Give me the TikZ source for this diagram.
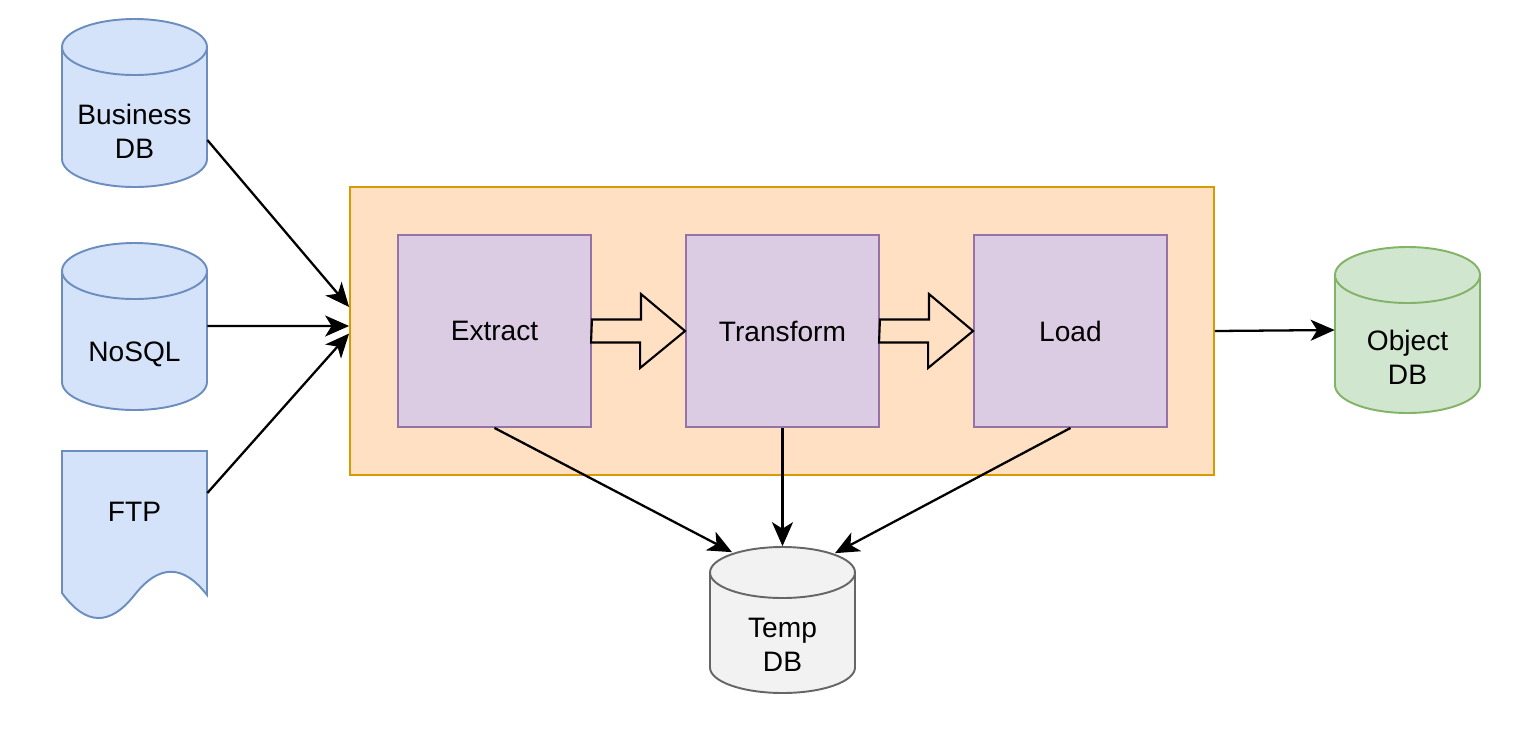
\documentclass[tikz,border=0pt]{standalone}
\usepackage{fontspec}
\setmainfont{Liberation Sans}
\usetikzlibrary{arrows.meta, calc}

\definecolor{srcfill}{HTML}{D4E3FA}
\definecolor{srcline}{HTML}{6C8EBF}
\definecolor{etlfill}{HTML}{FFE0C3}
\definecolor{etlline}{HTML}{D79B00}
\definecolor{stepfill}{HTML}{DBCBE3}
\definecolor{stepline}{HTML}{9673A6}
\definecolor{objfill}{HTML}{D0E6CE}
\definecolor{objline}{HTML}{82B366}
\definecolor{tmpfill}{HTML}{F2F2F2}
\definecolor{tmpline}{HTML}{666666}

% cylinder outline: centre x, top, bottom, cap radius, fill, line
\newcommand{\dbcyl}[6]{%
    \draw[fill=#5, draw=#6, line width=1.1pt]
        (#1-72.5,#2+#4) -- (#1-72.5,#3-#4)
        arc[start angle=180, end angle=0, x radius=72.5, y radius=#4]
        -- (#1+72.5,#2+#4)
        arc[start angle=0, end angle=-180, x radius=72.5, y radius=#4] -- cycle
        (#1-72.5,#2+#4)
        arc[start angle=180, end angle=0, x radius=72.5, y radius=#4];}

\tikzset{
    label font/.style={font=\fontsize{16}{19.3}\selectfont},
    dbtext/.style={rectangle, minimum width=2.9cm, align=center, label font},
    stage/.style={rectangle, draw=stepline, fill=stepfill, line width=1.1pt,
        minimum width=3.86cm, minimum height=3.84cm, label font},
    blockarrow/.style={draw=black, fill=etlfill, line width=1.2pt,
        line join=miter},
    flow/.style={-{Stealth[length=0.48cm, width=0.42cm, inset=0.13cm]},
        line width=1.3pt}
}

\begin{document}
\begin{tikzpicture}[x=0.02cm, y=-0.02cm]
    \useasboundingbox (0,0) rectangle (1536,728);

    % sources
    \dbcyl{134.5}{19}{187}{28}{srcfill}{srcline}
    \node[dbtext, minimum height=2.24cm] (business) at (134.5,131) {Business\\DB};
    \dbcyl{134.5}{243}{410}{28}{srcfill}{srcline}
    \node[dbtext, minimum height=2.22cm] (nosql) at (134.5,354) {NoSQL};
    \draw[fill=srcfill, draw=srcline, line width=1.1pt]
        (62,451) -- (207,451) -- (207,595)
        .. controls (183,564) and (159,564) .. (134.5,595)
        .. controls (110,626) and (86,626) .. (62,593) -- cycle;
    \node[dbtext, minimum height=2.44cm] (ftp) at (134.5,512) {FTP};

    % etl block
    \node[rectangle, draw=etlline, fill=etlfill, line width=1.1pt,
        minimum width=17.28cm, minimum height=5.76cm] (etl) at (782,331) {};
    \node[stage] (extract) at (494.5,331) {Extract};
    \node[stage] (transform) at (782.5,331) {Transform};
    \node[stage] (load) at (1070.5,331) {Load};

    \foreach \a/\b in {extract/transform, transform/load} {
        \draw[blockarrow] (\a.east) ++(0,-11.5) -- ++(49,0) -- ++(0,-25.5)
            -- (\b.west) -- ++(-45,37) -- ++(0,-25.5) -- ++(-49,0) -- cycle;
    }

    % targets
    \dbcyl{1407.5}{247}{413}{28}{objfill}{objline}
    \node[dbtext, minimum height=2.2cm] (objdb) at (1407.5,357) {Object\\DB};
    \dbcyl{782.5}{547}{693}{25.5}{tmpfill}{tmpline}
    \node[dbtext, minimum height=1.9cm] (temp) at (782.5,645) {Temp\\DB};

    % connectors
    \draw[flow] ([yshift=-0.18cm]business.east) -- ([yshift=0.48cm]etl.west);
    \draw[flow] ([yshift=0.56cm]nosql.east) -- ([yshift=0.1cm]etl.west);
    \draw[flow] ([yshift=0.38cm]ftp.east) -- ([yshift=-0.05cm]etl.west);
    \draw[flow] (extract.south) -- ($(temp.north)+(-50.5,-45)$);
    \draw[flow] (transform.south) -- ($(temp.north)+(0,-51)$);
    \draw[flow] (load.south) -- ($(temp.north)+(52.5,-44)$);
    \draw[flow] (etl.east) -- ([yshift=0.54cm]objdb.west);
\end{tikzpicture}
\end{document}
